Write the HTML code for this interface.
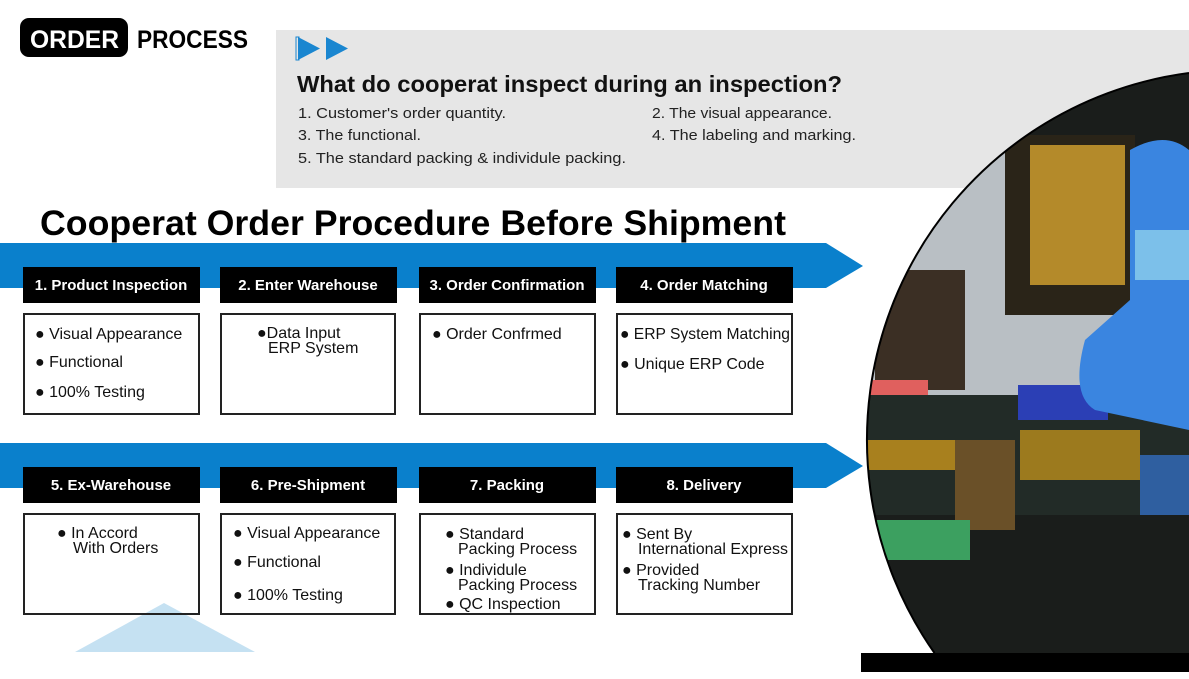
<!DOCTYPE html>
<html><head><meta charset="utf-8"><style>
html,body{margin:0;padding:0;background:#fff;width:1189px;height:679px;overflow:hidden;}
svg{display:block;}
text{font-family:"Liberation Sans",sans-serif;}
</style></head><body>
<svg width="1189" height="679" viewBox="0 0 1189 679" xmlns="http://www.w3.org/2000/svg">
<defs>
<clipPath id="c"><path d="M1189,73 A370,370 0 0 0 934.5,653 L1189,653 Z"/></clipPath>
</defs>
<rect x="276" y="30" width="913" height="158" fill="#e6e6e6"/>
<rect x="20" y="18" width="108" height="39" rx="9" fill="#000"/>
<text x="30" y="48" font-size="25" font-weight="bold" fill="#fff" textLength="89" lengthAdjust="spacingAndGlyphs">ORDER</text>
<text x="137" y="48" font-size="25" font-weight="bold" fill="#000" textLength="111" lengthAdjust="spacingAndGlyphs">PROCESS</text>
<polygon points="298,37 320,48.5 298,60" fill="#1a86d0"/>
<rect x="296" y="37" width="3" height="23" fill="none" stroke="#1a86d0" stroke-width="1"/>
<polygon points="326,37 348,48.5 326,60" fill="#1a86d0"/>
<text x="297" y="92" font-size="23" font-weight="bold" fill="#111" textLength="545" lengthAdjust="spacingAndGlyphs">What do cooperat inspect during an inspection?</text>
<g font-size="15" fill="#222">
<text x="298" y="118" textLength="208" lengthAdjust="spacingAndGlyphs">1. Customer's order quantity.</text>
<text x="652" y="118" textLength="180" lengthAdjust="spacingAndGlyphs">2. The visual appearance.</text>
<text x="298" y="140" textLength="123" lengthAdjust="spacingAndGlyphs">3. The functional.</text>
<text x="652" y="140" textLength="204" lengthAdjust="spacingAndGlyphs">4. The labeling and marking.</text>
<text x="298" y="163" textLength="328" lengthAdjust="spacingAndGlyphs">5. The standard packing &amp; individule packing.</text>
</g>
<g clip-path="url(#c)">
<rect x="860" y="70" width="329" height="583" fill="#1a1d1b"/>
<rect x="860" y="150" width="329" height="250" fill="#b9bfc4"/>
<rect x="1005" y="135" width="130" height="180" fill="#2a2418"/>
<rect x="1030" y="145" width="95" height="140" fill="#b48a2a"/>
<rect x="875" y="270" width="90" height="120" fill="#3b2f24"/>
<rect x="868" y="380" width="60" height="35" fill="#e0605e"/>
<rect x="860" y="395" width="329" height="120" fill="#222b27"/>
<rect x="1018" y="385" width="90" height="35" fill="#2b3fb5"/>
<rect x="860" y="440" width="120" height="30" fill="#a8801e"/>
<rect x="1020" y="430" width="120" height="50" fill="#9c7a1e"/>
<rect x="955" y="440" width="60" height="90" fill="#6a5028"/>
<rect x="870" y="520" width="100" height="40" fill="#3ca060"/>
<path d="M1130 150 Q1165 130 1189 150 L1189 430 L1095 410 Q1070 395 1085 340 L1130 300 Z" fill="#3a85e0"/>
<rect x="1135" y="230" width="54" height="50" fill="#7cc0ea"/>
<rect x="1140" y="455" width="49" height="60" fill="#2f5fa0"/>
</g>
<path d="M1189,73 A370,370 0 0 0 934.5,653" fill="none" stroke="#000" stroke-width="2"/>
<rect x="861" y="653" width="328" height="19" fill="#000"/>
<text x="40" y="235" font-size="35" font-weight="bold" fill="#000" textLength="746" lengthAdjust="spacingAndGlyphs">Cooperat Order Procedure Before Shipment</text>
<polygon points="0,243 826,243 863,266 826,288 0,288" fill="#0a80cc"/>
<polygon points="0,443 826,443 863,466 826,488 0,488" fill="#0a80cc"/>
<g fill="#000">
<rect x="23" y="267" width="177" height="36"/><rect x="220" y="267" width="177" height="36"/>
<rect x="419" y="267" width="177" height="36"/><rect x="616" y="267" width="177" height="36"/>
<rect x="23" y="467" width="177" height="36"/><rect x="220" y="467" width="177" height="36"/>
<rect x="419" y="467" width="177" height="36"/><rect x="616" y="467" width="177" height="36"/>
</g>
<g font-size="15" font-weight="bold" fill="#fff" text-anchor="middle">
<text x="111" y="290">1. Product Inspection</text>
<text x="308" y="290">2. Enter Warehouse</text>
<text x="507" y="290">3. Order Confirmation</text>
<text x="704" y="290">4. Order Matching</text>
<text x="111" y="490">5. Ex-Warehouse</text>
<text x="308" y="490">6. Pre-Shipment</text>
<text x="507" y="490">7. Packing</text>
<text x="704" y="490">8. Delivery</text>
</g>
<g fill="#fff" stroke="#222" stroke-width="2">
<rect x="24" y="314" width="175" height="100"/><rect x="221" y="314" width="174" height="100"/>
<rect x="420" y="314" width="175" height="100"/><rect x="617" y="314" width="175" height="100"/>
<rect x="24" y="514" width="175" height="100"/><rect x="221" y="514" width="174" height="100"/>
<rect x="420" y="514" width="175" height="100"/><rect x="617" y="514" width="175" height="100"/>
</g>
<polygon points="164,603 255,652 75,652" fill="#c5e1f2"/>
<line x1="142" y1="614" x2="186" y2="614" stroke="#222" stroke-width="2"/>
<g font-size="16" fill="#111">
<text x="35" y="339">● Visual Appearance</text>
<text x="35" y="367">● Functional</text>
<text x="35" y="397">● 100% Testing</text>
<text x="257" y="338">●Data Input</text>
<text x="268" y="353">ERP System</text>
<text x="432" y="339">● Order Confrmed</text>
<text x="620" y="339" textLength="170" lengthAdjust="spacingAndGlyphs">● ERP System Matching</text>
<text x="620" y="369">● Unique ERP Code</text>
<text x="57" y="538">● In Accord</text>
<text x="73" y="553">With Orders</text>
<text x="233" y="538">● Visual Appearance</text>
<text x="233" y="567">● Functional</text>
<text x="233" y="600">● 100% Testing</text>
<text x="445" y="539">● Standard</text>
<text x="458" y="554">Packing Process</text>
<text x="445" y="575">● Individule</text>
<text x="458" y="590">Packing Process</text>
<text x="445" y="609">● QC Inspection</text>
<text x="622" y="539">● Sent By</text>
<text x="638" y="554" textLength="150" lengthAdjust="spacingAndGlyphs">International Express</text>
<text x="622" y="575">● Provided</text>
<text x="638" y="590">Tracking Number</text>
</g>
</svg>
</body></html>
